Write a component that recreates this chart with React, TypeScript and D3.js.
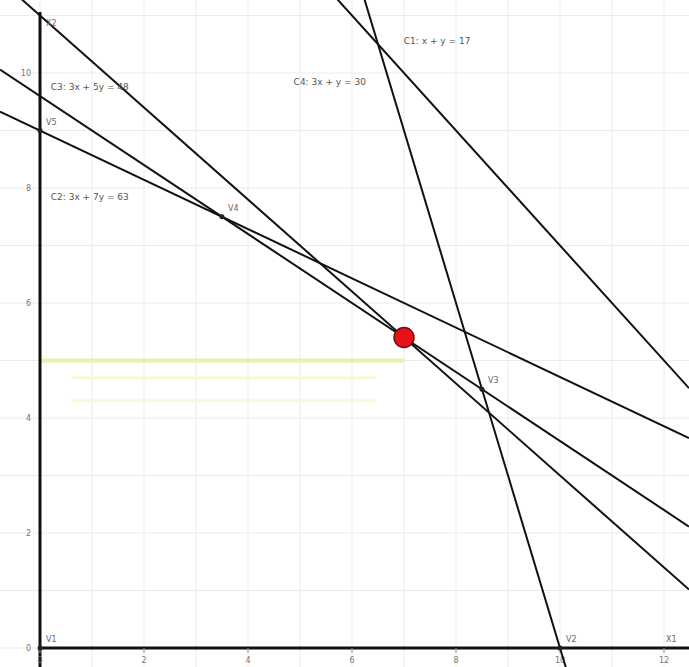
import { useEffect, useRef } from "react"
import * as d3 from "d3"

// constraint lines a*x + b*y = c
const lineNames = ["C1", "C2", "C3", "C4", "Z"]
const lineA = [1, 3, 3, 3, 4]
const lineB = [1, 7, 5, 1, 5]
const lineC = [17, 63, 48, 30, 55]
const lineLabels = ["C1: x + y = 17", "C2: 3x + 7y = 63", "C3: 3x + 5y = 48", "C4: 3x + y = 30", ""]
const labelX = [6.92, 0.13, 0.13, 4.8, 0]
const labelY = [10.5, 7.8, 9.7, 9.8, 0]

// vertices of the feasible region
const vertexNames = ["V1", "V2", "V3", "V4", "V5"]
const vertexX = [0, 10, 8.5, 3.5, 0]
const vertexY = [0, 0, 4.5, 7.5, 9]

// optimum
const optimumX = 7
const optimumY = 5.4

// yellow guide
const guideY = [5, 4.7, 4.3]
const guideFrom = [0, 0.6, 0.6]
const guideTo = [7, 6.45, 6.45]

const xTicks = [0, 2, 4, 6, 8, 10, 12]
const yTicks = [2, 4, 6, 8, 10]

export default function App() {
    const svgRef = useRef<SVGSVGElement | null>(null)
    const width = 689
    const height = 667

    useEffect(() => {
        if (!svgRef.current) return
        const svg = d3.select(svgRef.current)
        svg.selectAll("*").remove()

        const x = d3.scaleLinear().domain([0, 12]).range([40, 664])
        const y = d3.scaleLinear().domain([0, 10]).range([648, 73])
        const xMin = x.invert(0), xMax = x.invert(width)

        svg.append("rect").attr("width", width).attr("height", height).attr("fill", "#fff")

        // grid
        const grid = svg.append("g").attr("stroke", "#ebebeb").attr("stroke-width", 1)
        grid.selectAll("line.v")
            .data(d3.range(-1, 13))
            .enter()
            .append("line")
            .attr("x1", (d) => x(d)).attr("x2", (d) => x(d))
            .attr("y1", 0).attr("y2", height)
        grid.selectAll("line.h")
            .data(d3.range(-1, 12))
            .enter()
            .append("line")
            .attr("y1", (d) => y(d)).attr("y2", (d) => y(d))
            .attr("x1", 0).attr("x2", width)

        // yellow guides
        svg.append("g")
            .selectAll("line")
            .data(guideY)
            .enter()
            .append("line")
            .attr("x1", (_, i) => x(guideFrom[i]))
            .attr("x2", (_, i) => x(guideTo[i]))
            .attr("y1", (d) => y(d)).attr("y2", (d) => y(d))
            .attr("stroke", (_, i) => (i === 0 ? "#e9f2a6" : "#f6f9d8"))
            .attr("stroke-width", (_, i) => (i === 0 ? 4 : 3))

        // axes
        svg.append("line")
            .attr("x1", x(0)).attr("x2", width)
            .attr("y1", y(0)).attr("y2", y(0))
            .attr("stroke", "#111").attr("stroke-width", 3)
        svg.append("line")
            .attr("x1", x(0)).attr("x2", x(0))
            .attr("y1", 12).attr("y2", height)
            .attr("stroke", "#111").attr("stroke-width", 3)

        const tickFont = "DejaVu Sans, sans-serif"
        svg.append("g")
            .selectAll("text")
            .data(xTicks)
            .enter()
            .append("text")
            .attr("x", (d) => x(d))
            .attr("y", y(0) + 15)
            .attr("text-anchor", "middle")
            .attr("font-family", tickFont)
            .attr("font-size", 8)
            .attr("fill", "#777")
            .text((d) => d)
        svg.append("g")
            .selectAll("line")
            .data(xTicks)
            .enter()
            .append("line")
            .attr("x1", (d) => x(d)).attr("x2", (d) => x(d))
            .attr("y1", y(0)).attr("y2", y(0) + 5)
            .attr("stroke", "#999")
        svg.append("g")
            .selectAll("text")
            .data(yTicks)
            .enter()
            .append("text")
            .attr("x", x(0) - 9)
            .attr("y", (d) => y(d) + 3)
            .attr("text-anchor", "end")
            .attr("font-family", tickFont)
            .attr("font-size", 8)
            .attr("fill", "#777")
            .text((d) => d)
        svg.append("text")
            .attr("x", x(0) - 9).attr("y", y(0) + 3)
            .attr("text-anchor", "end")
            .attr("font-family", tickFont).attr("font-size", 8).attr("fill", "#777")
            .text("0")

        // constraint lines
        const lines = svg.append("g")
        lineNames.forEach((_, i) => {
            const a = lineA[i], b = lineB[i], c = lineC[i]
            const yAt = (xv: number) => (c - a * xv) / b
            lines.append("line")
                .attr("x1", x(xMin)).attr("y1", y(yAt(xMin)))
                .attr("x2", x(xMax)).attr("y2", y(yAt(xMax)))
                .attr("stroke", "#111")
                .attr("stroke-width", 2)
        })

        // constraint labels
        svg.append("g")
            .selectAll("text")
            .data(lineLabels.filter((d) => d))
            .enter()
            .append("text")
            .attr("x", (_, i) => x(labelX[i]) + 4)
            .attr("y", (_, i) => y(labelY[i]))
            .attr("font-family", tickFont)
            .attr("font-size", 9)
            .attr("fill", "#555")
            .text((d) => d)

        // vertices
        const vg = svg.append("g")
        vertexNames.forEach((name, i) => {
            vg.append("circle")
                .attr("cx", x(vertexX[i])).attr("cy", y(vertexY[i]))
                .attr("r", 2.5).attr("fill", "#222")
            vg.append("text")
                .attr("x", x(vertexX[i]) + 6)
                .attr("y", y(vertexY[i]) - 6)
                .attr("font-family", tickFont)
                .attr("font-size", 8)
                .attr("fill", "#666")
                .text(name)
        })

        // axis names
        svg.append("text")
            .attr("x", x(12) + 2).attr("y", y(0) - 6)
            .attr("font-family", tickFont).attr("font-size", 8).attr("fill", "#666")
            .text("X1")
        svg.append("text")
            .attr("x", x(0) + 6).attr("y", y(11) + 10)
            .attr("font-family", tickFont).attr("font-size", 8).attr("fill", "#666")
            .text("X2")

        // optimum
        svg.append("circle")
            .attr("cx", x(optimumX)).attr("cy", y(optimumY))
            .attr("r", 10)
            .attr("fill", "#e8101a")
            .attr("stroke", "#7a0a0a")
            .attr("stroke-width", 1.5)
    }, [])

    return (
        <div style={{ position: "absolute", left: 0, top: 0 }}>
            <svg ref={svgRef} width={width} height={height} style={{ display: "block" }} />
        </div>
    )
}
